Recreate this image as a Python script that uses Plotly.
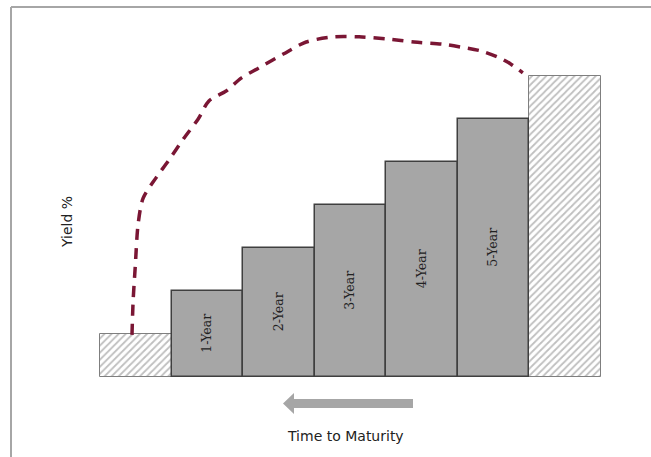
import plotly.graph_objects as go

# Term structure steps: position on the maturity axis and yield level
step_pos = [0, 1, 2, 3, 4, 5, 6]
step_yield = [1, 2, 3, 4, 5, 6, 7]
step_labels = ["", "1-Year", "2-Year", "3-Year", "4-Year", "5-Year", ""]
hatched = [True, False, False, False, False, False, True]

# Dashed yield curve traced over the steps
curve_x = [-0.056, -0.04, -0.01, 0.03, 0.10, 0.28, 0.45, 0.66, 0.87, 1.02, 1.26,
           1.47, 1.72, 2.06, 2.38, 2.76, 3.12, 3.52, 3.89, 4.29, 4.55, 4.83,
           5.06, 5.24, 5.41]
curve_y = [0.98, 1.77, 2.58, 3.56, 4.16, 4.63, 5.02, 5.53, 6.0, 6.42, 6.65,
           6.95, 7.19, 7.51, 7.79, 7.91, 7.91, 7.86, 7.79, 7.74, 7.67, 7.58,
           7.44, 7.28, 7.07]

W, H = 651, 457

fig = go.Figure()

hx = [p for p, h in zip(step_pos, hatched) if h]
hy = [v for v, h in zip(step_yield, hatched) if h]
fig.add_trace(go.Bar(
    x=hx, y=hy, width=1,
    marker=dict(color="white",
                line=dict(color="#7f7f7f", width=1),
                pattern=dict(shape="/", fgcolor="#7f7f7f", bgcolor="white",
                             size=5, solidity=0.35)),
    hoverinfo="skip", showlegend=False,
))

gx = [p for p, h in zip(step_pos, hatched) if not h]
gy = [v for v, h in zip(step_yield, hatched) if not h]
gl = [t for t, h in zip(step_labels, hatched) if not h]
fig.add_trace(go.Bar(
    x=gx, y=gy, width=1, text=gl,
    textposition="inside", insidetextanchor="middle", textangle=-90,
    textfont=dict(family="DejaVu Serif", size=12.5, color="#222222"),
    marker=dict(color="#a6a6a6", line=dict(color="#3f3f3f", width=1.5)),
    hoverinfo="skip", showlegend=False,
))

fig.add_trace(go.Scatter(
    x=curve_x, y=curve_y, mode="lines",
    line=dict(color="#7a1634", width=3.5, dash="11px,8px", shape="spline",
              smoothing=0.8),
    hoverinfo="skip", showlegend=False,
))

# Outer frame
fig.add_shape(type="line", xref="paper", yref="paper",
              x0=11 / W, x1=11 / W, y0=0, y1=1 - 7 / H,
              line=dict(color="#a6a6a6", width=2))
fig.add_shape(type="line", xref="paper", yref="paper",
              x0=11 / W, x1=1, y0=1 - 7 / H, y1=1 - 7 / H,
              line=dict(color="#a6a6a6", width=2))


def px(x):
    return x / W


def py(y):
    return 1 - y / H


# Left-pointing arrow under the steps
arrow_path = (f"M {px(283)},{py(403.5)} L {px(294)},{py(393)} L {px(294)},{py(399)} "
              f"L {px(413)},{py(399)} L {px(413)},{py(408)} L {px(294)},{py(408)} "
              f"L {px(294)},{py(414)} Z")
fig.add_shape(type="path", xref="paper", yref="paper", path=arrow_path,
              fillcolor="#a6a6a6", line=dict(width=0))

fig.add_annotation(text="Yield %", xref="paper", yref="paper",
                   x=px(67), y=py(222), xanchor="center", yanchor="middle",
                   textangle=-90, showarrow=False,
                   font=dict(family="DejaVu Sans", size=14, color="#222222"))
fig.add_annotation(text="Time to Maturity", xref="paper", yref="paper",
                   x=px(345), y=py(436), xanchor="center", yanchor="middle",
                   showarrow=False,
                   font=dict(family="DejaVu Sans", size=14, color="#222222"))

fig.update_layout(
    width=W, height=H,
    margin=dict(l=0, r=0, t=0, b=0),
    paper_bgcolor="white", plot_bgcolor="white",
    barmode="overlay", bargap=0,
    xaxis=dict(range=[-1.902, 7.203], visible=False, fixedrange=True),
    yaxis=dict(range=[-1.861, 8.767], visible=False, fixedrange=True),
    uniformtext=dict(minsize=12, mode="show"),
)

fig.write_html("out.html")
